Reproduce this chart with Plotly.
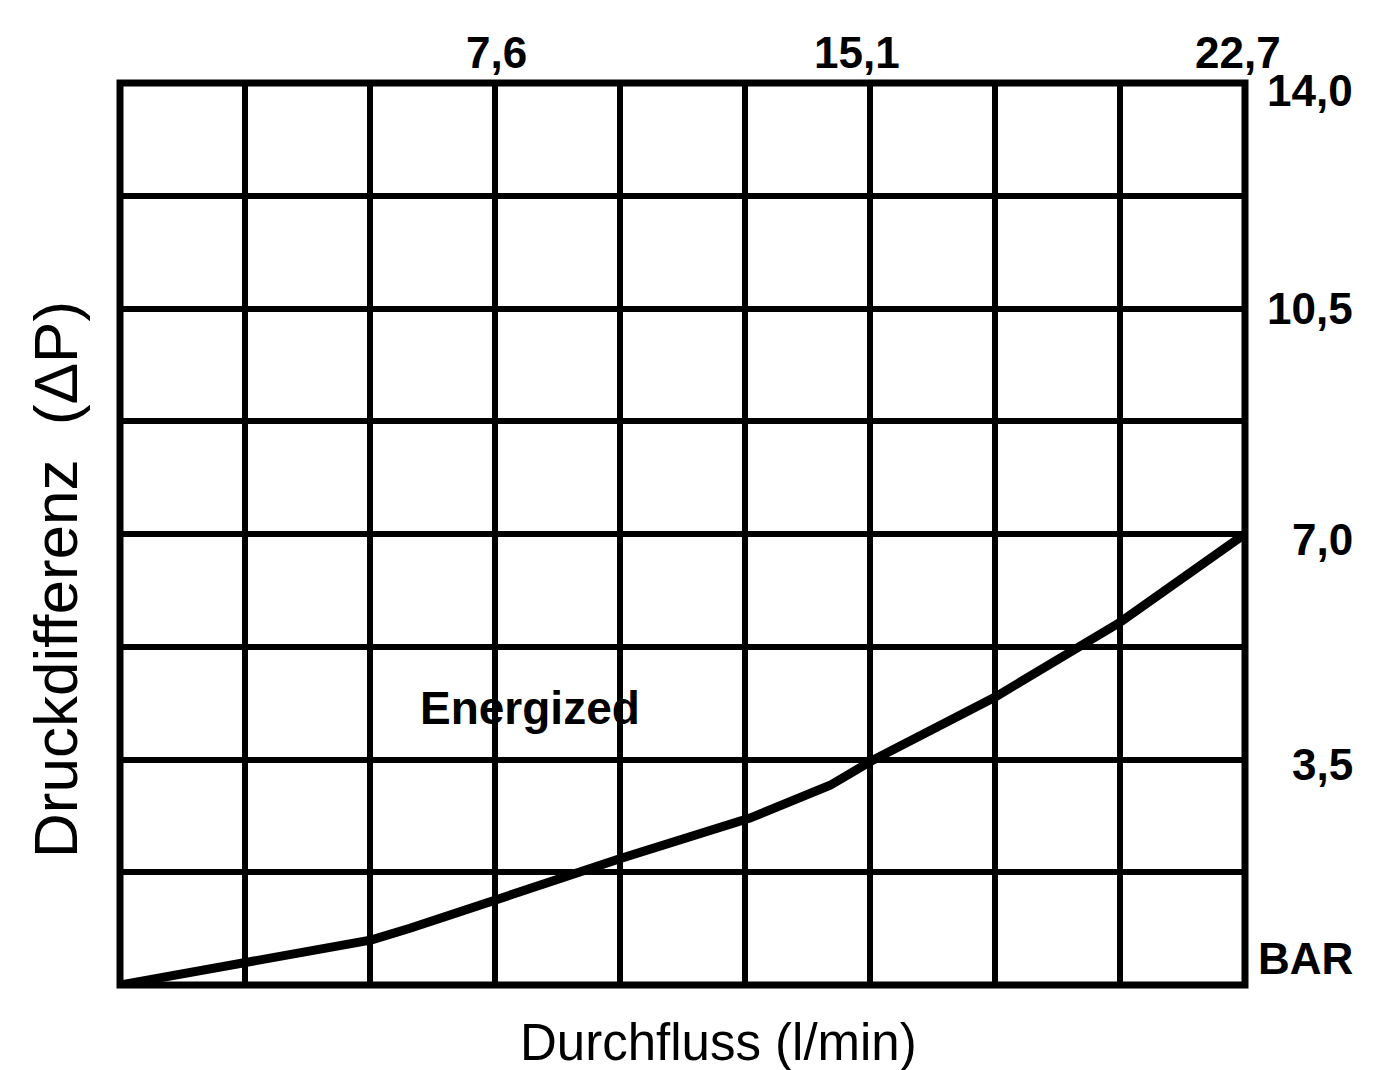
import plotly.graph_objects as go

# ---- data ----
flow_lpm = [0, 2.52, 5.08, 5.85, 7.6, 9.54, 10.13, 12.71, 14.33, 15.19, 17.66, 20.18, 20.58, 22.7]
dp_bar = [0, 0.36, 0.70, 0.88, 1.33, 1.82, 1.97, 2.59, 3.10, 3.49, 4.47, 5.63, 5.85, 7.0]

x_max = 22.7
y_max = 14.0
n_xdiv = 9
n_ydiv = 8

top_tick_vals = [7.6, 15.1, 22.7]
top_tick_text = ["7,6", "15,1", "22,7"]
right_tick_vals = [14.0, 10.5, 7.0, 3.5, 0.0]
right_tick_text = ["14,0", "10,5", "7,0", "3,5", "BAR"]

curve_label = "Energized"
curve_label_pos = (8.27, 4.3)
x_title = "Durchfluss (l/min)"
y_title = "Druckdifferenz\u00a0\u00a0(\u0394P)"

# ---- styling ----
FONT = "Liberation Sans"
BOLD = "Liberation Sans"
top_shift_x = [0, -11, -7]
right_shift_y = [-7, 0, -5, -5, 27]

fig = go.Figure()
fig.add_trace(go.Scatter(
    x=flow_lpm, y=dp_bar, mode="lines",
    line=dict(color="black", width=9), showlegend=False, hoverinfo="skip",
))

fig.update_xaxes(range=[0, x_max], tick0=0, dtick=x_max / n_xdiv,
                 showgrid=True, gridcolor="black", gridwidth=6,
                 zeroline=False, showticklabels=False, ticks="", showline=False)
fig.update_yaxes(range=[0, y_max], tick0=0, dtick=y_max / n_ydiv,
                 showgrid=True, gridcolor="black", gridwidth=6,
                 zeroline=False, showticklabels=False, ticks="", showline=False)

fig.add_shape(type="rect", xref="paper", yref="paper", x0=0, y0=0, x1=1, y1=1,
              line=dict(color="black", width=7), layer="above")

ann = []
for v, t, dx in zip(top_tick_vals, top_tick_text, top_shift_x):
    ann.append(dict(x=v, y=1, xref="x", yref="paper", text="<b>%s</b>" % t, showarrow=False,
                    xanchor="center", yanchor="middle", xshift=dx, yshift=31,
                    font=dict(family=BOLD, size=44, color="black")))
for v, t, dy in zip(right_tick_vals, right_tick_text, right_shift_y):
    ann.append(dict(x=1.0978, y=v, xref="paper", yref="y", text="<b>%s</b>" % t, showarrow=False,
                    xanchor="right", yanchor="middle", yshift=dy,
                    font=dict(family=BOLD, size=44, color="black")))
ann.append(dict(x=curve_label_pos[0], y=curve_label_pos[1], xref="x", yref="y",
                text="<b>%s</b>" % curve_label, showarrow=False, xanchor="center", yanchor="middle",
                font=dict(family=BOLD, size=46, color="black")))
ann.append(dict(x=0.532, y=0, xref="paper", yref="paper", text=x_title, showarrow=False,
                xanchor="center", yanchor="middle", yshift=-57,
                font=dict(family=FONT, size=51, color="black")))
ann.append(dict(x=0, y=0.449, xref="paper", yref="paper", text=y_title, showarrow=False,
                xanchor="center", yanchor="middle", xshift=-65, textangle=-90,
                font=dict(family=FONT, size=62, color="black")))

fig.update_layout(
    width=1381, height=1062,
    margin=dict(l=112, r=144, t=75, b=85),
    paper_bgcolor="white", plot_bgcolor="white",
    annotations=ann, showlegend=False,
)

fig.write_html("out.html")
